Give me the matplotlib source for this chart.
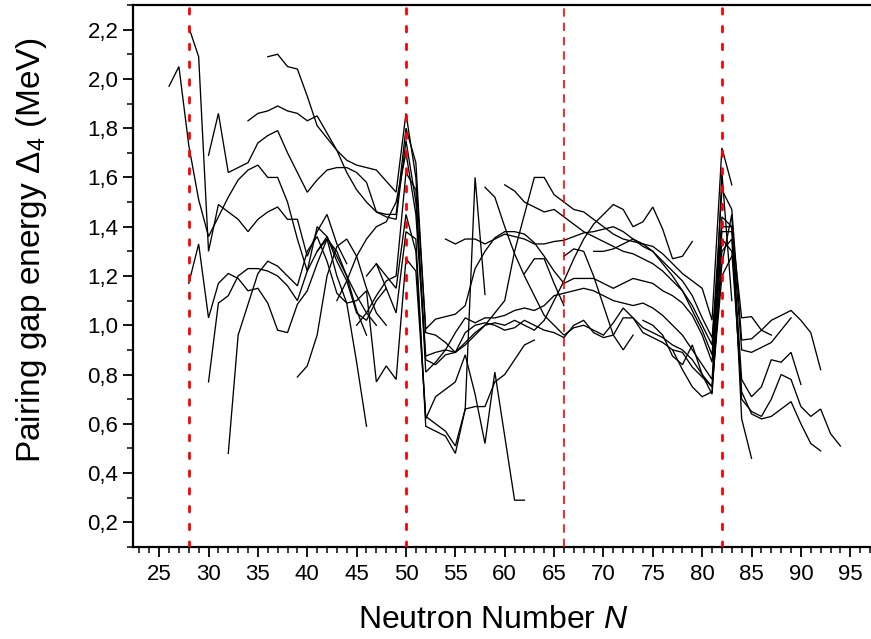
import matplotlib
matplotlib.use("Agg")
import matplotlib.pyplot as plt
from matplotlib.ticker import MultipleLocator, FuncFormatter

plt.rcParams['font.family'] = ['Liberation Sans', 'DejaVu Sans']
plt.rcParams['mathtext.fontset'] = 'custom'
plt.rcParams['mathtext.rm'] = 'Liberation Sans'
plt.rcParams['mathtext.it'] = 'Liberation Sans:italic'

# Isotopic chains: first neutron number and pairing gap values (MeV) for consecutive N
chain_a1_start = 26
chain_a1 = [1.97, 2.05, 1.73, 1.51, 1.36, 1.44, 1.52, 1.59, 1.63, 1.65, 1.60, 1.60, 1.50,
            1.35, 1.22, 1.30, 1.36, 1.28, 1.20, 1.06, 0.96]
chain_a2_start = 28
chain_a2 = [2.21, 2.09, 1.30, 1.49, 1.46, 1.43, 1.38, 1.43, 1.46, 1.48, 1.43, 1.43, 1.28,
            1.38, 1.45, 1.33, 1.25]
chain_a3_start = 28
chain_a3 = [1.17, 1.33, 1.03, 1.17, 1.21, 1.19, 1.14, 1.15, 1.09, 0.98, 0.97, 1.085, 1.14,
            1.25, 1.35, 1.30, 1.20, 1.12, 1.05, 1.00]
chain_a4_start = 30
chain_a4 = [1.69, 1.86, 1.62, 1.64, 1.66, 1.74, 1.77, 1.79, 1.70, 1.62, 1.54, 1.59, 1.63,
            1.64, 1.64, 1.62, 1.58, 1.46, 1.44, 1.43,
            1.75, 1.50, 0.875, 0.89, 0.90, 0.89, 0.93, 0.97, 1.00, 1.01, 1.00, 1.02, 1.00,
            0.98, 1.02, 1.10, 1.18,
            1.27, 1.35, 1.41, 1.45, 1.49, 1.47, 1.40, 1.42, 1.48, 1.39, 1.27, 1.28, 1.34]
chain_a5_start = 30
chain_a5 = [0.77, 1.09, 1.12, 1.20, 1.23, 1.23, 1.22, 1.20, 1.16, 1.10, 1.22, 1.40, 1.36,
            1.26, 1.18, 1.05, 1.02, 1.10, 1.15]
chain_a6_start = 32
chain_a6 = [0.48, 0.96, 1.085, 1.21, 1.26, 1.24, 1.20, 1.16, 1.30, 1.36, 1.26, 1.13, 1.09,
            0.85, 0.59]
chain_a7_start = 34
chain_a7 = [1.83, 1.86, 1.87, 1.89, 1.87, 1.86, 1.83, 1.85, 1.78, 1.71, 1.67, 1.65, 1.64,
            1.63, 1.585, 1.54,
            1.86, 1.60, 0.985, 1.025, 1.035, 1.045, 1.08, 1.23, 1.30, 1.355, 1.38, 1.38,
            1.37, 1.335, 1.28, 1.22, 1.17,
            1.19, 1.19, 1.19, 1.17, 1.15, 1.17, 1.19, 1.18, 1.17, 1.14, 1.12, 1.09, 1.04,
            0.96, 0.85,
            1.38, 1.38, 0.78, 0.71, 0.75, 0.86, 0.85, 0.89, 0.76]
chain_a8_start = 36
chain_a8 = [2.09, 2.10, 2.05, 2.04, 1.93, 1.81, 1.76, 1.71, 1.62, 1.55, 1.50, 1.46, 1.45,
            1.45,
            1.80, 1.66, 0.97, 0.96, 0.93, 0.89, 0.92, 0.96, 1.00, 1.05, 1.10, 1.30, 1.45,
            1.60, 1.60, 1.53, 1.50,
            1.47, 1.46, 1.43, 1.40, 1.37, 1.35, 1.34, 1.33, 1.32, 1.29, 1.25, 1.21, 1.18,
            1.15, 1.02,
            1.72, 1.57]
chain_a9_start = 39
chain_a9 = [0.79, 0.835, 0.96, 1.20, 1.32, 1.35, 1.28, 1.15, 1.05, 1.00]
chain_a10_start = 41
chain_a10 = [1.30, 1.35, 1.20, 1.09, 1.10, 1.14, 0.77, 0.835, 0.78,
             1.27, 1.22, 0.63, 0.60, 0.57, 0.51, 0.66, 0.67, 0.67, 0.77, 0.80, 0.86, 0.92,
             0.94]
chain_b1_start = 43
chain_b1 = [1.10, 1.18, 1.28, 1.35, 1.40, 1.42, 1.50,
            1.70, 1.45, 0.86, 0.84, 0.88, 0.89, 0.97, 1.00, 1.01, 1.00, 0.98, 0.99, 1.02,
            1.00, 0.98, 0.97, 0.95,
            1.00, 1.02, 0.97, 0.95, 0.96, 1.03, 1.03, 0.99, 0.97, 0.95, 0.92, 0.90, 0.86,
            0.80, 0.72,
            1.30, 1.35, 0.70, 0.65, 0.63, 0.70, 0.80, 0.78, 0.67, 0.63, 0.66, 0.56, 0.51]
chain_b2_start = 45
chain_b2 = [1.00, 1.05, 1.12, 1.18, 1.20,
            1.62, 1.55, 0.81, 0.85, 0.90, 0.97, 1.03, 1.01, 1.03, 1.03, 1.04, 1.06, 1.07,
            1.06, 1.08, 1.12, 1.13,
            1.14, 1.15, 1.14, 1.12, 1.10, 1.09, 1.08, 1.09, 1.07, 1.04, 1.00, 0.96, 0.90,
            0.84, 0.78,
            1.35, 1.30, 0.73, 0.64, 0.62, 0.63, 0.66, 0.69, 0.60, 0.52, 0.49]
chain_b3_start = 47
chain_b3 = [1.25, 1.20, 1.15, 1.45, 1.30, 0.62, 0.71, 0.74, 0.77, 0.88, 0.72, 0.52, 0.81,
            0.55, 0.29, 0.29]
chain_b4_start = 46
chain_b4 = [1.20, 1.25, 1.15, 1.05, 1.38, 1.35, 0.59, 0.57, 0.55, 0.48, 0.66, 1.60, 1.125]
chain_c1_start = 54
chain_c1 = [1.35, 1.33, 1.35, 1.35, 1.33, 1.35, 1.37, 1.36, 1.35, 1.33, 1.33, 1.34,
            1.345, 1.36, 1.375, 1.38, 1.39, 1.40, 1.38, 1.35, 1.32, 1.30, 1.25, 1.20, 1.14,
            1.06, 0.98, 0.88,
            1.44, 1.40, 0.90, 0.89, 0.91, 0.93, 0.98, 1.03]
chain_c2_start = 58
chain_c2 = [1.56, 1.52, 1.40, 1.29, 1.20, 1.12, 1.04, 1.00, 0.96, 0.99, 1.00,
            0.98, 0.96, 1.01, 1.07, 1.03, 0.97, 0.95, 0.93, 0.90, 0.89, 0.83, 0.79, 0.75,
            1.25, 1.45, 0.62, 0.46]
chain_c3_start = 60
chain_c3 = [1.57, 1.545, 1.50, 1.48, 1.46, 1.47, 1.44, 1.41, 1.38, 1.36, 1.34, 1.32, 1.30,
            1.29, 1.27, 1.25, 1.22, 1.18, 1.14, 1.08, 1.00, 0.92,
            1.55, 1.47, 0.94, 0.945, 0.98, 1.02, 1.04, 1.06, 1.02, 0.97, 0.82]
chain_c4_start = 69
chain_c4 = [1.30, 1.30, 1.31, 1.33, 1.35, 1.33, 1.30, 1.26, 1.22, 1.18, 1.12, 1.03, 0.95,
            1.40, 1.40, 1.03, 1.035, 0.98, 0.96]
chain_c5_start = 62
chain_c5 = [1.21, 1.27, 1.27, 1.17, 1.08]
chain_c6_start = 66
chain_c6 = [1.28, 1.31, 1.30, 1.20, 1.08, 0.96, 0.90, 0.96]
chain_c7_start = 74
chain_c7 = [1.02, 1.00, 0.96, 0.875, 0.84, 0.92, 0.80, 0.75, 1.20, 1.28]
chain_c8_start = 77
chain_c8 = [0.90, 0.82, 0.75, 0.71, 0.73, 1.62, 1.10]

# Shell closures (dotted) and mid-shell (dashed)
magic_numbers = [28, 50, 82]
mid_shell = [66]

x_ticks = list(range(25, 100, 5))
y_ticks = [0.2, 0.4, 0.6, 0.8, 1.0, 1.2, 1.4, 1.6, 1.8, 2.0, 2.2]

chains = [
    (chain_a1_start, chain_a1), (chain_a2_start, chain_a2), (chain_a3_start, chain_a3),
    (chain_a4_start, chain_a4), (chain_a5_start, chain_a5), (chain_a6_start, chain_a6),
    (chain_a7_start, chain_a7), (chain_a8_start, chain_a8), (chain_a9_start, chain_a9),
    (chain_a10_start, chain_a10), (chain_b1_start, chain_b1), (chain_b2_start, chain_b2),
    (chain_b3_start, chain_b3), (chain_b4_start, chain_b4), (chain_c1_start, chain_c1),
    (chain_c2_start, chain_c2), (chain_c3_start, chain_c3), (chain_c4_start, chain_c4),
    (chain_c5_start, chain_c5), (chain_c6_start, chain_c6), (chain_c7_start, chain_c7),
    (chain_c8_start, chain_c8),
]

fig = plt.figure(figsize=(8.71, 6.39), dpi=100)
ax = fig.add_axes([0.1527, 0.1440, 0.8473, 0.8482])

for start, vals in chains:
    ns = list(range(start, start + len(vals)))
    ax.plot(ns, vals, color='black', lw=0.95, solid_joinstyle='miter', zorder=2)

for n in magic_numbers:
    ax.axvline(n, color='#ff0000', lw=2.0, linestyle=(0, (2.0, 4.4)),
               dash_capstyle='round', zorder=3)
for n in mid_shell:
    ax.axvline(n, color='#ff0000', lw=1.2, linestyle=(0, (5.0, 3.6)), zorder=3)

ax.set_xlim(22.35, 97.1)
ax.set_ylim(0.1, 2.3)

ax.xaxis.set_major_locator(plt.FixedLocator(x_ticks))
ax.xaxis.set_minor_locator(MultipleLocator(1))
ax.yaxis.set_major_locator(plt.FixedLocator(y_ticks))
ax.yaxis.set_minor_locator(MultipleLocator(0.1))
ax.yaxis.set_major_formatter(FuncFormatter(lambda v, p: f"{v:.1f}".replace('.', ',')))

ax.tick_params(axis='both', which='major', direction='out', length=7.5, width=1.3,
               labelsize=16, colors='black')
ax.tick_params(axis='both', which='minor', direction='out', length=4, width=1.1)
ax.tick_params(axis='x', which='major', pad=5)
ax.tick_params(axis='y', which='major', pad=3)

for side in ['left', 'bottom', 'top']:
    ax.spines[side].set_linewidth(1.6)
ax.spines['right'].set_visible(False)

fig.text(493 / 871, 1 - 620 / 639, 'Neutron Number $N$', ha='center', va='center',
         fontsize=23)
fig.text(32 / 871, 1 - 250 / 639, 'Pairing gap energy \u0394$_{4}$ (MeV)', ha='center',
         va='center', rotation=90, fontsize=24)

fig.savefig('out.png', dpi=100)
